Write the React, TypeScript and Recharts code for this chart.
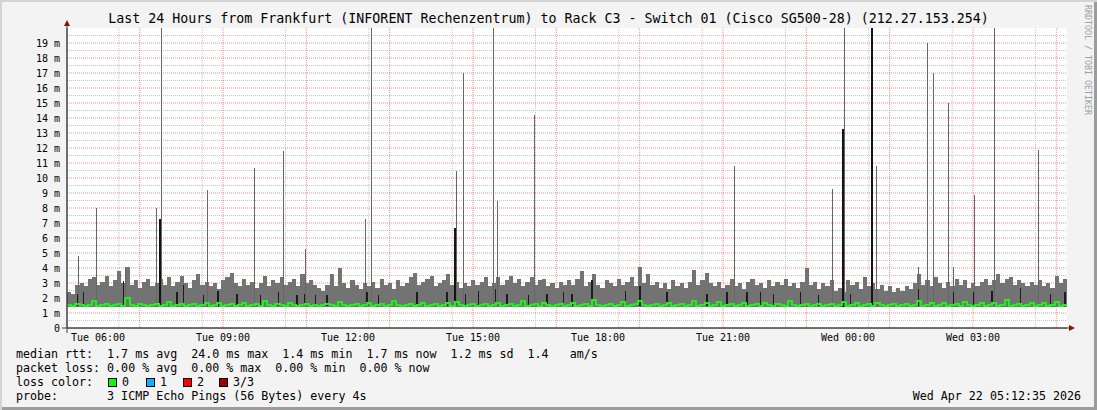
import { ComposedChart, Area, Line, XAxis, YAxis, CartesianGrid } from "recharts";

// time axis in hours since Tue 00:00, one smoke sample every 6 minutes
const START = 5.256;
const END = 29.256;
const STEP = 0.1;

// top of the grey smoke (ms)
const smokeTop = [
  2.4, 2.3, 2.9, 3.0, 2.8, 3.3, 3.4, 2.9, 3.1, 3.5, 2.8, 3.2, 3.8, 3.0, 4.1, 2.9, 3.2, 2.7, 3.1, 3.3,
  2.8, 3.0, 3.3, 2.9, 3.4, 2.8, 3.1, 3.5, 3.0, 2.7, 3.2, 3.6, 2.9, 3.1, 2.8, 3.0, 2.6, 3.2, 3.4, 3.7,
  3.0, 2.8, 3.3, 2.9, 3.1, 2.7, 3.0, 3.5, 2.8, 3.2, 3.0, 3.4, 2.9, 3.1, 3.3, 2.8, 3.6, 3.0, 3.2, 2.9,
  2.7, 2.5, 2.9, 3.6, 2.8, 4.0, 3.0, 2.7, 3.2, 2.9, 2.6, 3.0, 2.8, 3.1, 2.7, 3.3, 2.9, 3.0, 2.6, 3.2,
  2.8, 3.0, 3.4, 3.7, 2.9, 3.1, 3.3, 3.5, 2.8, 3.0, 3.2, 3.6, 2.9, 3.1, 2.7, 3.0, 2.8, 3.2, 2.9, 3.1,
  3.4, 2.8, 3.0, 3.4, 2.9, 3.2, 3.5, 3.0, 3.3, 2.8, 3.1, 3.4, 2.9, 3.2, 3.3, 2.8, 3.0, 2.7, 3.1, 2.9,
  3.2, 2.9, 3.3, 3.8, 2.8, 3.1, 3.6, 2.9, 2.7, 3.2, 3.0, 2.8, 3.3, 2.9, 3.1, 3.4, 2.8, 4.1, 3.0, 3.6,
  2.9, 3.1, 2.7, 3.0, 2.6, 3.2, 2.8, 3.0, 2.7, 3.1, 3.9, 2.9, 3.2, 3.7, 3.0, 2.8, 3.1, 2.7, 2.9, 3.3,
  2.8, 3.0, 2.6, 3.1, 3.3, 2.9, 3.0, 2.7, 3.2, 2.8, 3.1, 2.9, 3.3, 2.8, 3.0, 2.7, 3.1, 4.0, 2.9, 3.1,
  2.6, 3.0, 2.8, 3.2, 2.5, 2.7, 2.4, 3.2, 2.9, 3.1, 2.6, 3.4, 2.8, 3.0, 2.6, 2.9, 2.5, 2.8, 2.4, 2.7,
  2.5, 2.8, 2.6, 3.0, 3.6, 2.9, 3.2, 2.8, 3.4, 3.0, 2.7, 3.1, 2.8, 3.3, 2.9, 3.2, 2.7, 3.0, 2.8, 3.1,
  3.3, 2.9, 3.2, 3.6, 3.0, 3.3, 3.4, 2.9, 3.2, 3.0, 2.8, 3.1, 2.9, 3.2, 2.8, 3.0, 2.7, 3.5, 3.0, 3.3,
];

// median rtt (ms)
const medianRtt = [
  1.55, 1.5, 1.6, 1.55, 1.5, 1.55, 1.8, 1.5, 1.55, 1.6, 1.5, 1.55, 1.6, 1.5, 2.0, 1.55, 1.5, 1.6, 1.55, 1.5,
  1.55, 1.6, 1.5, 1.55, 1.75, 1.5, 1.55, 1.6, 1.5, 1.55, 1.6, 1.5, 1.55, 1.65, 1.5, 1.55, 1.7, 1.5, 1.55, 1.6,
  1.5, 1.55, 1.65, 1.5, 1.55, 1.6, 1.5, 1.8, 1.55, 1.5, 1.6, 1.55, 1.5, 1.7, 1.55, 1.5, 1.55, 1.6, 1.5, 1.55,
  1.5, 1.55, 1.6, 1.55, 1.5, 1.75, 1.55, 1.5, 1.55, 1.6, 1.5, 1.55, 1.7, 1.5, 1.55, 1.6, 1.5, 1.55, 1.8, 1.55,
  1.5, 1.55, 1.6, 1.5, 1.55, 1.7, 1.5, 1.55, 1.6, 1.5, 1.55, 1.65, 1.5, 1.75, 1.55, 1.5, 1.55, 1.6, 1.5, 1.55,
  1.6, 1.5, 1.55, 1.7, 1.5, 1.55, 1.6, 1.5, 1.55, 1.8, 1.5, 1.55, 1.6, 1.5, 1.7, 1.55, 1.5, 1.55, 1.6, 1.5,
  1.55, 1.65, 1.5, 1.55, 1.6, 1.5, 1.9, 1.55, 1.5, 1.55, 1.6, 1.5, 1.55, 1.75, 1.5, 1.55, 1.6, 1.8, 1.55, 1.5,
  1.55, 1.6, 1.5, 1.55, 1.7, 1.5, 1.55, 1.6, 1.5, 1.55, 1.8, 1.5, 1.55, 1.65, 1.5, 1.55, 1.75, 1.5, 1.55, 1.6,
  1.5, 1.55, 1.65, 1.5, 1.55, 1.6, 1.5, 1.7, 1.55, 1.5, 1.6, 1.55, 1.5, 1.8, 1.55, 1.5, 1.55, 1.6, 1.5, 1.55,
  1.6, 1.5, 1.55, 1.6, 1.5, 1.55, 1.75, 1.5, 1.55, 1.65, 1.5, 1.55, 1.6, 1.5, 1.7, 1.55, 1.5, 1.55, 1.6, 1.5,
  1.55, 1.6, 1.5, 1.55, 1.8, 1.5, 1.55, 1.65, 1.5, 1.55, 1.7, 1.5, 1.55, 1.6, 1.5, 1.75, 1.55, 1.5, 1.55, 1.65,
  1.5, 1.55, 1.65, 1.5, 1.55, 1.85, 1.5, 1.55, 1.6, 1.5, 1.55, 1.7, 1.5, 1.55, 1.65, 1.5, 1.55, 1.75, 1.5, 1.55,
];

// single outlier pings [hour, ms]
const greySpikes = [
  [5.52, 4.8], [5.952, 8.0], [6.648, 4.1], [7.392, 8.0], [7.512, 24], [8.616, 9.2],
  [9.744, 10.7], [10.44, 11.8], [10.968, 5.3], [12.408, 7.3], [12.552, 24], [14.592, 10.5],
  [14.76, 17.0], [15.48, 24], [15.576, 8.5], [16.464, 14.2], [21.264, 10.8], [23.616, 9.3],
  [23.904, 24], [24.672, 10.8], [25.68, 4.1], [25.896, 19.0], [26.04, 17.0], [26.4, 15.0],
  [26.52, 4.1], [27.024, 8.9], [27.504, 24], [28.56, 11.9],
];

// dense (dark) smoke columns [hour, ms]
const darkSpikes = [[7.488, 7.3], [14.568, 6.7], [23.88, 13.3], [24.576, 24]];
const darkBits = [
  [5.513, 2.3], [5.657, 2.4], [6.617, 3.15], [7.896, 2.4], [8.057, 2.9], [8.537, 2.2], [8.88, 2.5],
  [9.336, 2.3], [9.895, 2.2], [10.337, 2.4], [10.776, 2.2], [10.951, 2.3], [11.215, 2.2],
  [11.496, 2.2], [12.456, 2.4], [12.737, 2.2], [13.656, 2.4], [14.376, 2.4], [14.815, 2.3],
  [15.137, 2.5], [15.535, 2.6], [15.816, 2.3], [16.337, 2.2], [16.776, 2.3], [17.177, 2.4],
  [17.376, 2.3], [17.856, 3.2], [18.655, 2.5], [19.008, 2.8], [19.656, 2.4], [20.616, 2.3],
  [21.096, 2.4], [21.576, 2.4], [21.895, 2.4], [22.217, 2.3], [22.855, 2.4], [23.297, 2.2],
  [24.055, 2.3], [25.697, 2.6], [26.537, 2.4], [27.017, 2.4], [27.456, 2.5], [28.135, 2.7],
  [28.855, 2.3], [29.208, 2.4],
];

const hourTicks = [6, 9, 12, 15, 18, 21, 24, 27];
const majorHours = [6, 7, 8, 9, 10, 11, 12, 13, 14, 15, 16, 17, 18, 19, 20, 21, 22, 23, 24, 25, 26, 27, 28, 29];
const minorHours = [5.5, 6.5, 7.5, 8.5, 9.5, 10.5, 11.5, 12.5, 13.5, 14.5, 15.5, 16.5, 17.5, 18.5, 19.5, 20.5, 21.5, 22.5, 23.5, 24.5, 25.5, 26.5, 27.5, 28.5];
const msTicks = [0, 1, 2, 3, 4, 5, 6, 7, 8, 9, 10, 11, 12, 13, 14, 15, 16, 17, 18, 19];
const majorMs = [1, 2, 3, 4, 5, 6, 7, 8, 9, 10, 11, 12, 13, 14, 15, 16, 17, 18, 19];
const minorMs = [0.5, 1.5, 2.5, 3.5, 4.5, 5.5, 6.5, 7.5, 8.5, 9.5, 10.5, 11.5, 12.5, 13.5, 14.5, 15.5, 16.5, 17.5, 18.5, 19.5];

const SMOKE_BASE = 1.42;

const title =
  "Last 24 Hours from Frankfurt (INFORENT Rechenzentrum) to Rack C3 - Switch 01 (Cisco SG500-28) (212.27.153.254)";
const legendLines = [
  "median rtt:  1.7 ms avg  24.0 ms max  1.4 ms min  1.7 ms now  1.2 ms sd  1.4   am/s",
  "packet loss: 0.00 % avg  0.00 % max  0.00 % min  0.00 % now",
];
const lossColors = [
  { label: "0", color: "#00ff00", x: 108 },
  { label: "1", color: "#00b8ff", x: 146 },
  { label: "2", color: "#ff0000", x: 183 },
  { label: "3/3", color: "#a00000", x: 219 },
];
const probeLine = "probe:       3 ICMP Echo Pings (56 Bytes) every 4s";
const stamp = "Wed Apr 22 05:12:35 2026";

const rows = smokeTop.map((hi, i) => ({ t: START + i * STEP, hi, med: medianRtt[i] }));
rows.push({ t: END, hi: smokeTop[smokeTop.length - 1], med: medianRtt[medianRtt.length - 1] });

const toSegments = (list: number[][], base: number) =>
  list.flatMap(([t, v]) => [
    { t, v: base },
    { t, v },
    { t, v: null },
  ]);

const greyRows = toSegments(greySpikes, SMOKE_BASE);
const darkRows = toSegments(darkSpikes, SMOKE_BASE);
const bitRows = toSegments(darkBits, 1.5);

const mono = "'DejaVu Sans Mono', monospace";
const textLine = { position: "absolute" as const, fontSize: 11.65, lineHeight: "14px", whiteSpace: "pre" as const };

const fmtHour = (h: number) => {
  const day = h < 24 ? "Tue" : "Wed";
  const hh = String(Math.round(h) % 24).padStart(2, "0");
  return `${day} ${hh}:00`;
};

export default function App() {
  return (
    <div
      style={{
        position: "absolute",
        left: 0,
        top: 0,
        width: 1097,
        height: 410,
        background: "#f3f3f3",
        boxShadow: "inset 2px 2px 0 #d4d4d4, inset -3px -3px 0 #9c9c9c",
        fontFamily: mono,
        color: "#000",
      }}
    >
      <div
        style={{
          position: "absolute",
          left: 0,
          top: 11,
          width: 1097,
          textAlign: "center",
          fontSize: 13.3,
          lineHeight: "16px",
          whiteSpace: "pre",
        }}
      >
        {title}
      </div>

      <ComposedChart
        width={1097}
        height={410}
        margin={{ top: 28, right: 30, bottom: 62, left: 10 }}
        style={{ position: "absolute", left: 0, top: 0 }}
      >
        <CartesianGrid
          fill="#ffffff"
          stroke="#c4c4c4"
          strokeDasharray="1 1"
          horizontalValues={minorMs}
          verticalValues={minorHours}
        />
        <CartesianGrid
          stroke="#ff0000"
          strokeOpacity={0.45}
          strokeDasharray="1 1"
          horizontalValues={majorMs}
          verticalValues={majorHours}
        />
        <XAxis
          dataKey="t"
          type="number"
          domain={[START, END]}
          allowDataOverflow
          ticks={hourTicks}
          tickFormatter={fmtHour}
          tickLine={false}
          tickSize={3}
          tickMargin={3}
          height={20}
          axisLine={{ stroke: "#404040" }}
          tick={{ fontFamily: mono, fontSize: 10, fill: "#000" }}
        />
        <YAxis
          type="number"
          domain={[0, 20]}
          allowDataOverflow
          ticks={msTicks}
          interval={0}
          tickFormatter={(v: number) => (v === 0 ? "0" : `${v} m`)}
          tickLine={false}
          tickSize={4}
          tickMargin={3}
          width={57}
          axisLine={{ stroke: "#404040" }}
          tick={{ fontFamily: mono, fontSize: 10, fill: "#000" }}
        />
        <Area
          data={rows}
          dataKey="hi"
          type="stepAfter"
          baseValue={SMOKE_BASE}
          fill="#737373"
          fillOpacity={1}
          stroke="none"
          shapeRendering="crispEdges"
          isAnimationActive={false}
        />
        <Line
          data={greyRows}
          dataKey="v"
          type="linear"
          stroke="#666666"
          strokeWidth={1}
          shapeRendering="crispEdges"
          dot={false}
          connectNulls={false}
          isAnimationActive={false}
        />
        <Line
          data={bitRows}
          dataKey="v"
          type="linear"
          stroke="#1c1c1c"
          strokeWidth={1.5}
          shapeRendering="crispEdges"
          dot={false}
          connectNulls={false}
          isAnimationActive={false}
        />
        <Line
          data={darkRows}
          dataKey="v"
          type="linear"
          stroke="#141414"
          strokeWidth={2.5}
          shapeRendering="crispEdges"
          dot={false}
          connectNulls={false}
          isAnimationActive={false}
        />
        <Line
          data={rows}
          dataKey="med"
          type="stepAfter"
          stroke="#1ef01e"
          strokeWidth={2}
          shapeRendering="crispEdges"
          dot={false}
          isAnimationActive={false}
        />
      </ComposedChart>

      {/* axis arrows */}
      <svg width={1097} height={410} style={{ position: "absolute", left: 0, top: 0, pointerEvents: "none" }}>
        <line x1={67} y1={24} x2={67} y2={333} stroke="#404040" strokeWidth={1} />
        <line x1={62} y1={328} x2={1070} y2={328} stroke="#404040" strokeWidth={1} />
        <polygon points="64,26 70,26 67,20" fill="#8a1010" />
        <polygon points="1069,325 1069,331 1075,328" fill="#8a1010" />
      </svg>

      <div
        style={{
          position: "absolute",
          left: 1083,
          top: 5,
          writingMode: "vertical-rl",
          fontSize: 8.3,
          lineHeight: "10px",
          color: "#a0a0a0",
          whiteSpace: "pre",
        }}
      >
        RRDTOOL / TOBI OETIKER
      </div>

      {legendLines.map((s, k) => (
        <div key={k} style={{ ...textLine, left: 16, top: 347 + k * 14 }}>
          {s}
        </div>
      ))}
      <div style={{ ...textLine, left: 16, top: 375 }}>loss color:</div>
      {lossColors.map((c) => (
        <div key={c.label}>
          <div
            style={{
              position: "absolute",
              left: c.x,
              top: 378,
              width: 9,
              height: 9,
              boxSizing: "border-box",
              border: "1px solid #000",
              background: c.color,
            }}
          />
          <div style={{ ...textLine, left: c.x + 14, top: 375 }}>{c.label}</div>
        </div>
      ))}
      <div style={{ ...textLine, left: 16, top: 389 }}>{probeLine}</div>
      <div style={{ ...textLine, right: 16, top: 389, textAlign: "right" }}>{stamp}</div>
    </div>
  );
}
